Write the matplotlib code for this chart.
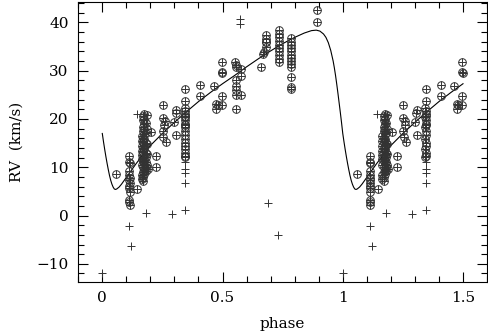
import numpy as np
import matplotlib
matplotlib.use('Agg')
import matplotlib.pyplot as plt
from matplotlib.ticker import MultipleLocator

# model curve, one cycle (phase, RV km/s)
curve_phase = [0.000, 0.005, 0.010, 0.015, 0.020, 0.025, 0.030, 0.035, 0.040, 0.045,
               0.050, 0.055, 0.060, 0.070, 0.080, 0.090, 0.100, 0.120, 0.140, 0.160,
               0.180, 0.200, 0.250, 0.300, 0.350, 0.400, 0.450, 0.500, 0.550, 0.600,
               0.650, 0.700, 0.750, 0.800, 0.840, 0.870, 0.890, 0.905, 0.920, 0.930,
               0.940, 0.950, 0.960, 0.965, 0.970, 0.975, 0.980, 0.985, 0.990, 0.995, 1.000]
curve_rv = [17.0, 15.3, 13.7, 12.2, 10.8, 9.5, 8.3, 7.3, 6.5, 5.9,
            5.5, 5.4, 5.5, 5.9, 6.5, 7.2, 7.9, 9.3, 10.7, 12.0,
            13.3, 14.5, 17.0, 19.3, 21.5, 23.6, 25.5, 27.3, 29.0, 30.8,
            32.5, 34.1, 35.6, 36.9, 37.8, 38.3, 38.4, 38.2, 37.6, 36.9,
            35.8, 34.2, 32.0, 30.6, 29.0, 27.2, 25.3, 23.3, 21.3, 19.2, 17.0]

# circled-plus measurements
obs_phase = [0.058,
             0.112, 0.113, 0.114, 0.112, 0.113, 0.115, 0.112, 0.114, 0.113, 0.112, 0.114, 0.113, 0.112, 0.114,
             0.170, 0.170, 0.170, 0.170, 0.170, 0.170, 0.170, 0.170, 0.170, 0.170, 0.170, 0.170, 0.170, 0.170,
             0.175, 0.175, 0.175, 0.175, 0.175, 0.175, 0.175, 0.175, 0.175, 0.175, 0.175, 0.175, 0.175,
             0.164, 0.164, 0.164, 0.164, 0.164, 0.164, 0.164, 0.164, 0.164,
             0.181, 0.181, 0.181, 0.181, 0.181, 0.181, 0.181, 0.181,
             0.186, 0.186, 0.186, 0.186, 0.186,
             0.145, 0.203, 0.189, 0.224, 0.224,
             0.252, 0.252, 0.258, 0.252, 0.254, 0.263, 0.307, 0.305, 0.300, 0.307, 0.260,
             0.345, 0.345, 0.344, 0.346, 0.345, 0.344, 0.346, 0.345, 0.344, 0.346,
             0.345, 0.344, 0.346, 0.345, 0.344, 0.346, 0.345, 0.344, 0.346, 0.345,
             0.407, 0.407, 0.464, 0.474, 0.474, 0.497, 0.497, 0.499, 0.497, 0.497, 0.480,
             0.552, 0.556, 0.558, 0.575, 0.575, 0.556, 0.558, 0.556, 0.558, 0.578, 0.556,
             0.661, 0.668, 0.672, 0.682, 0.682, 0.682, 0.682, 0.680,
             0.733, 0.733, 0.733, 0.733, 0.733, 0.733, 0.733, 0.733, 0.733, 0.733,
             0.786, 0.786, 0.786, 0.786, 0.786, 0.786, 0.786, 0.786, 0.786, 0.786, 0.786, 0.786, 0.786,
             0.894, 0.894]
obs_rv = [8.7,
          12.3, 11.0, 10.9, 9.3, 8.3, 7.7, 7.3, 6.8, 6.2, 5.6, 4.8, 3.3, 2.8, 2.1,
          20.7, 19.8, 18.3, 17.5, 16.0, 15.2, 14.0, 13.1, 12.0, 11.2, 10.1, 9.0, 8.0, 7.2,
          21.0, 20.0, 18.9, 17.9, 16.8, 15.8, 14.6, 13.7, 12.5, 11.6, 10.7, 9.5, 8.5,
          16.5, 15.5, 14.3, 13.4, 12.6, 11.8, 10.5, 8.3, 7.6,
          19.2, 17.0, 15.0, 13.0, 12.2, 11.0, 10.0, 9.2,
          20.8, 18.0, 14.8, 12.8, 10.4,
          5.5, 17.2, 9.7, 12.4, 10.0,
          22.8, 20.1, 18.7, 17.6, 16.2, 15.2, 21.8, 21.3, 19.4, 16.7, 19.5,
          26.3, 23.7, 22.2, 21.6, 21.0, 20.4, 19.8, 19.0, 18.3, 17.6,
          16.6, 15.8, 15.1, 14.5, 13.8, 13.0, 12.4, 12.1, 20.7, 18.7,
          27.1, 24.8, 26.8, 23.0, 22.1, 31.7, 29.7, 29.5, 24.8, 22.8, 22.8,
          31.7, 31.1, 30.7, 30.4, 29.0, 28.0, 26.8, 25.9, 25.0, 24.9, 22.1,
          30.8, 33.5, 33.9, 37.3, 36.6, 35.9, 34.9, 36.0,
          38.4, 37.7, 36.9, 36.2, 35.4, 34.7, 34.0, 33.2, 32.5, 31.8,
          36.7, 36.0, 35.3, 34.6, 34.0, 33.3, 32.7, 32.0, 31.4, 30.8, 28.7, 26.6, 26.3,
          42.5, 40.0]

# plain-plus measurements
rej_phase = [0.000, 0.113, 0.120, 0.143, 0.180, 0.290, 0.345, 0.345, 0.345, 0.345, 0.345,
             0.574, 0.574, 0.689, 0.730]
rej_rv = [-12.0, -2.1, -6.4, 21.0, 0.5, 0.35, 11.1, 9.7, 8.8, 6.8, 1.2,
          40.8, 39.6, 2.7, -4.1]


def wrap(ph, rv):
    # repeat the first half-cycle after phase 1
    ph, rv = np.asarray(ph), np.asarray(rv)
    m = ph <= 0.5
    return np.concatenate([ph, ph[m] + 1]), np.concatenate([rv, rv[m]])


plt.rcParams['font.family'] = 'DejaVu Serif'
fig = plt.figure(figsize=(4.89, 3.31), dpi=100)
ax = fig.add_axes([0.160, 0.149, 0.836, 0.846])

cp, cr = np.asarray(curve_phase), np.asarray(curve_rv)
cx = np.concatenate([cp, cp[(cp > 0) & (cp <= 0.5)] + 1])
cy = np.concatenate([cr, cr[(cp > 0) & (cp <= 0.5)]])
ax.plot(cx, cy, color='k', lw=0.8)

MC = '#333333'
ox, oy = wrap(obs_phase, obs_rv)
ax.plot(ox, oy, 'o', ms=5.5, mfc='none', mec=MC, mew=0.7, ls='none')
ax.plot(ox, oy, '+', ms=5.5, mec=MC, mew=0.7, ls='none')
rx, ry = wrap(rej_phase, rej_rv)
ax.plot(rx, ry, '+', ms=5.5, mec=MC, mew=0.7, ls='none')

ax.set_xlim(-0.1, 1.6)
ax.set_ylim(-13.7, 44.3)
ax.xaxis.set_major_locator(MultipleLocator(0.5))
ax.xaxis.set_minor_locator(MultipleLocator(0.1))
ax.yaxis.set_major_locator(MultipleLocator(10))
ax.yaxis.set_minor_locator(MultipleLocator(2))
ax.set_xticks([0, 0.5, 1, 1.5])
ax.set_xticklabels(['0', '0.5', '1', '1.5'])
ax.tick_params(which='both', direction='in', top=True, right=True, labelsize=11, width=0.8)
ax.tick_params(which='major', length=7.5, pad=7)
ax.tick_params(which='minor', length=4)
for sp in ax.spines.values():
    sp.set_linewidth(0.8)
ax.set_xlabel('phase', fontsize=11, labelpad=8)
ax.set_ylabel('RV  (km/s)', fontsize=11, labelpad=9)

fig.savefig('out.png', dpi=100, facecolor='white')
